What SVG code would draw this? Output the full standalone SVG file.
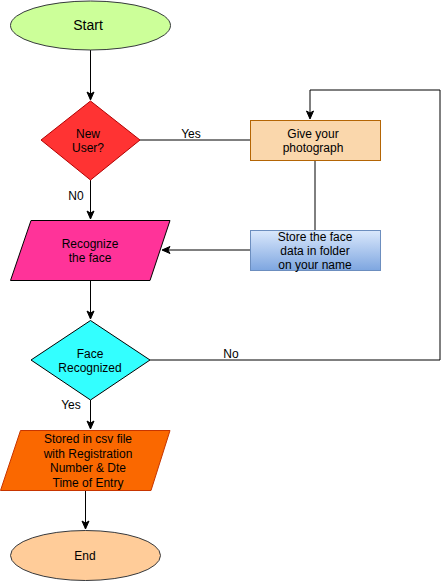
<svg xmlns="http://www.w3.org/2000/svg" width="442" height="581" viewBox="0 0 442 581">
<style>
text{font-family:"Liberation Sans",Arial,sans-serif;font-size:12px;fill:#000;text-anchor:middle}
.c{fill:none;stroke:#000;stroke-width:1}
.lbl{text-anchor:middle}
</style>
<defs>
<marker id="arr" markerWidth="10" markerHeight="10" refX="8" refY="5" orient="auto" markerUnits="userSpaceOnUse">
<path d="M1,1.5 L9,5 L1,8.5 L3,5 Z" fill="#000" stroke="#000" stroke-width="1"/>
</marker>
<linearGradient id="blue" x1="0" y1="0" x2="0" y2="1">
<stop offset="0" stop-color="#dae8fc"/>
<stop offset="1" stop-color="#7ea6e0"/>
</linearGradient>
</defs>
<g id="connectors">
<path class="c" d="M90.5,50 V99" marker-end="url(#arr)"/>
<path class="c" d="M140,140 H250"/>
<path class="c" d="M315,160 V230"/>
<path class="c" d="M250,250 H163" marker-end="url(#arr)"/>
<path class="c" d="M90.5,180 V218" marker-end="url(#arr)"/>
<path class="c" d="M90.5,280 V318" marker-end="url(#arr)"/>
<path class="c" d="M150,360 H440 V90 H310 V118" marker-end="url(#arr)"/>
<path class="c" d="M90.5,400 V428" marker-end="url(#arr)"/>
<path class="c" d="M85.5,490 V528" marker-end="url(#arr)"/>
<text x="191" y="138">Yes</text>
<text x="76" y="200">N0</text>
<text x="231" y="358">No</text>
<text x="71" y="409">Yes</text>
</g>
<g id="start">
<ellipse cx="90.5" cy="25.5" rx="80" ry="24.5" fill="#ccff99" stroke="#36393d"/>
<text x="88" y="30" style="font-size:14px">Start</text>
</g>
<g id="newuser">
<path d="M90.5,101 L140,140 L90.5,180 L41,140 Z" fill="#ff3333" stroke="#b20000"/>
<text x="88" y="138">New</text>
<text x="88" y="152">User?</text>
</g>
<g id="photo">
<rect x="250.5" y="120.5" width="130" height="40" fill="#fad7ac" stroke="#b46504"/>
<text x="313" y="138">Give your</text>
<text x="313" y="152">photograph</text>
</g>
<g id="store">
<rect x="250.5" y="230.5" width="130" height="40" fill="url(#blue)" stroke="#6c8ebf"/>
<text x="315" y="241">Store the face</text>
<text x="315" y="255">data in folder</text>
<text x="315" y="269">on your name</text>
</g>
<g id="recognize">
<path d="M31,220.5 L170,220.5 L150,280.5 L10.5,280.5 Z" fill="#ff3399" stroke="#000"/>
<text x="90" y="248">Recognize</text>
<text x="90" y="262">the face</text>
</g>
<g id="facerec">
<path d="M90.5,320.5 L150,360 L90.5,400 L31,360 Z" fill="#33ffff" stroke="#000"/>
<text x="90" y="358">Face</text>
<text x="90" y="372">Recognized</text>
</g>
<g id="stored">
<path d="M20.5,430.5 L170,430.5 L151,490.5 L0.5,490.5 Z" fill="#fa6800" stroke="#c73500"/>
<text x="88" y="443">Stored in csv file</text>
<text x="88" y="458">with Registration</text>
<text x="88" y="472">Number &amp; Dte</text>
<text x="88" y="487">Time of Entry</text>
</g>
<g id="end">
<ellipse cx="85.5" cy="555.5" rx="75" ry="25" fill="#ffcc99" stroke="#36393d"/>
<text x="85" y="560">End</text>
</g>
</svg>
